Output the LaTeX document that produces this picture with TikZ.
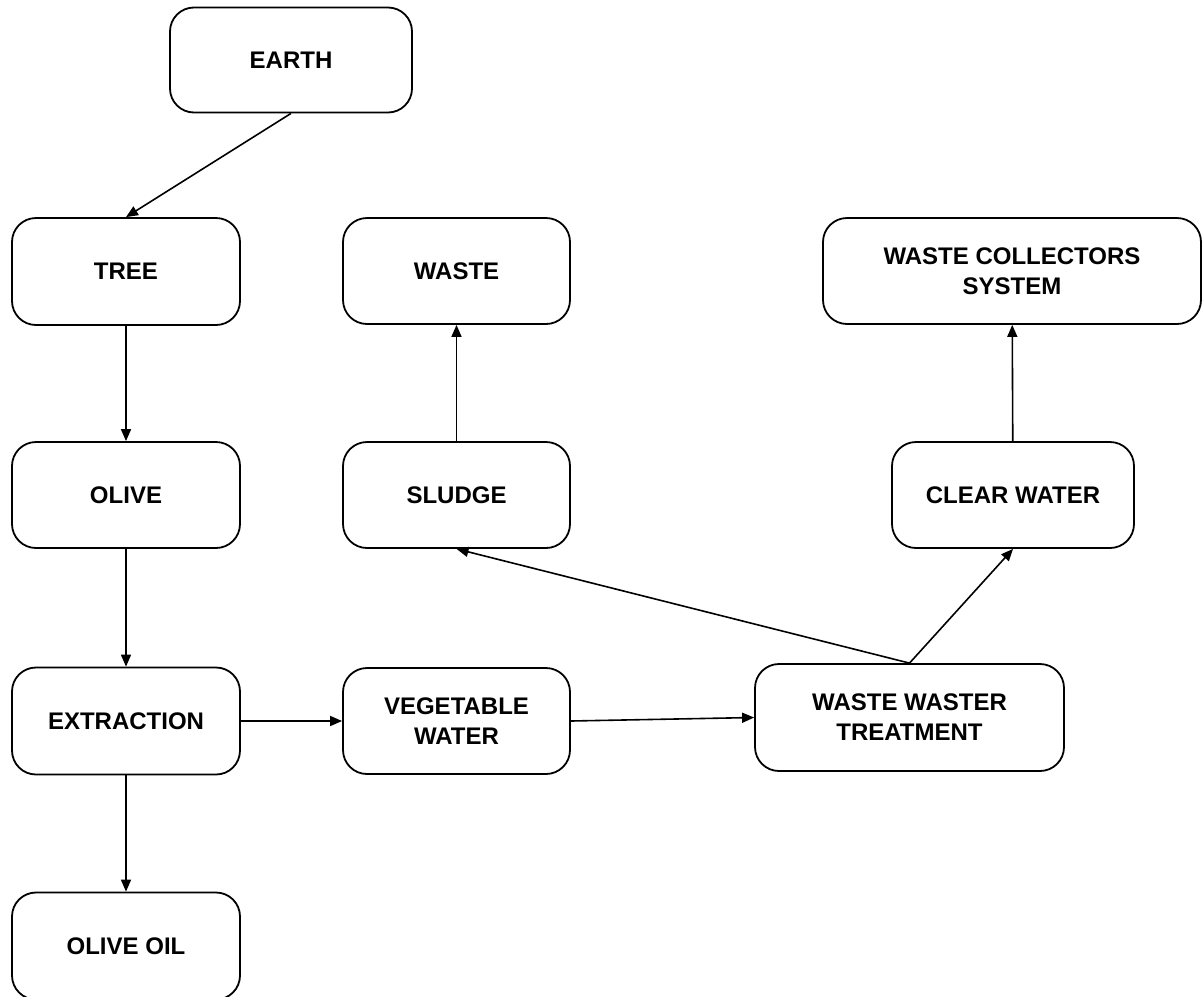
\documentclass[tikz,border=0pt]{standalone}
\usepackage{fontspec}
\setmainfont{Liberation Sans}
\usetikzlibrary{arrows.meta}
\begin{document}
\begin{tikzpicture}[x=0.5pt,y=-0.5pt,
  box/.style={draw, line width=0.9pt, rounded corners=12pt, inner sep=0pt, align=center,
    font=\fontsize{12}{15}\selectfont\bfseries},
  conn/.style={line width=0.8pt, -{Triangle[length=6pt,width=5pt]}}]
\useasboundingbox (0,0) rectangle (1203,996);
\node[box, minimum width=121pt, minimum height=52.5pt] (earth) at (291,60) {EARTH};
\node[box, minimum width=114pt, minimum height=53.5pt] (tree) at (126,271.5) {TREE};
\node[box, minimum width=114pt, minimum height=53pt] (olive) at (126,495) {OLIVE};
\node[box, minimum width=114pt, minimum height=53.5pt] (extr) at (126,721) {EXTRACTION};
\node[box, minimum width=114pt, minimum height=53.5pt] (oil) at (126,946) {OLIVE OIL};
\node[box, minimum width=113.5pt, minimum height=53pt] (waste) at (456.5,271) {WASTE};
\node[box, minimum width=113.5pt, minimum height=53pt] (sludge) at (456.5,495) {SLUDGE};
\node[box, minimum width=113.5pt, minimum height=53pt] (veg) at (456.5,721) {VEGETABLE\\WATER};
\node[box, minimum width=154.5pt, minimum height=53.5pt] (wwt) at (909.5,717.5) {WASTE WASTER\\TREATMENT};
\node[box, minimum width=121pt, minimum height=53pt] (clear) at (1013,495) {CLEAR WATER};
\node[box, minimum width=189pt, minimum height=53pt] (wcs) at (1012,271) {WASTE COLLECTORS\\SYSTEM};
\draw[conn] (earth.south) -- (tree.north);
\draw[conn] (tree) -- (olive);
\draw[conn] (olive) -- (extr);
\draw[conn] (extr) -- (oil);
\draw[conn] (extr) -- (veg);
\draw[conn] (veg.east) -- (wwt.west);
\draw[conn] (wwt.north) -- (sludge.south);
\draw[conn] (wwt.north) -- (clear.south);
\draw[conn] (sludge) -- (waste);
\draw[conn] (clear) -- (wcs);
\end{tikzpicture}
\end{document}
